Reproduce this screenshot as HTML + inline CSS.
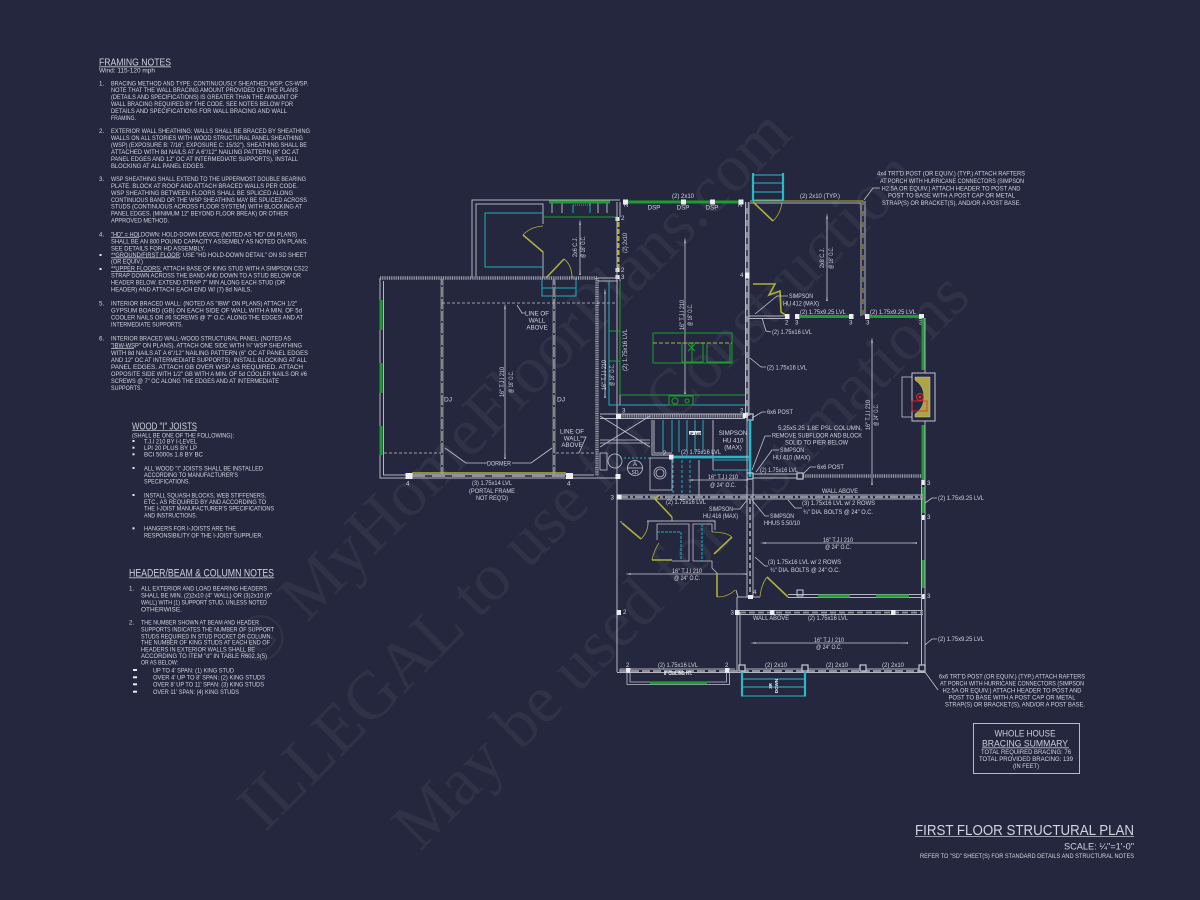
<!DOCTYPE html>
<html><head><meta charset="utf-8"><title>First Floor Structural Plan</title>
<style>
html,body{margin:0;padding:0;background:#25273e;width:1200px;height:900px;overflow:hidden}
svg{display:block;filter:blur(.38px)}
text{font-family:"Liberation Sans",sans-serif;fill:#d3d4df;font-size:6.2px}
.wm{font-family:"Liberation Serif",serif;font-size:68px;fill:#ffffff;fill-opacity:.05}
.h{font-size:10px;fill:#cfd0dc}
.p{font-size:6.4px;fill:#e0e1ea}
.w{stroke:#b4b5c3;stroke-width:1;fill:none}
.t{stroke:#c2c3cf;stroke-width:.8;fill:none}
.g{stroke:#1f9c34;fill:none}
.y{stroke:#aeb03c;stroke-width:1.6;fill:none}
.c{stroke:#22aebc;fill:none;stroke-width:1}
.b{fill:#ececf2}
.o{fill:#25273e;stroke:#c9cad5;stroke-width:1.2}
.dd{stroke:#25273e;stroke-width:1.6;fill:none}
.hh{stroke:#9c9dab;stroke-width:3.6;stroke-dasharray:1 .8;fill:none}
.a{stroke:#c8c9d3;stroke-width:.8;fill:none;marker-start:url(#ah);marker-end:url(#ah)}
</style></head><body>
<svg width="1200" height="900" viewBox="0 0 1200 900" xmlns="http://www.w3.org/2000/svg">
<defs><marker id="ah" markerUnits="userSpaceOnUse" markerWidth="6" markerHeight="4" refX="3" refY="2" orient="auto"><path d="M0 2L6 1.2V2.8Z" fill="#c8c9d3"/></marker></defs>
<rect width="1200" height="900" fill="#25273e"/>

<!-- watermark -->
<text class="wm" transform="translate(258,672) rotate(-45)">© MyHomeFloorPlans.com</text>
<text class="wm" transform="translate(265,833) rotate(-45)">ILLEGAL to use for Construction</text>
<text class="wm" transform="translate(420,852) rotate(-45)">May be used for Estimations</text>

<!-- FRAMING NOTES -->
<text class="h" x="99" y="65.5" textLength="72" lengthAdjust="spacingAndGlyphs">FRAMING NOTES</text>
<line class="t" x1="99" y1="66.8" x2="171" y2="66.8"/>
<text x="99" y="72.5" textLength="56" lengthAdjust="spacingAndGlyphs">Wind: 115-120 mph</text>
<g>
<text x="99" y="85.5">1.</text>
<text x="111" y="85.5" textLength="197" lengthAdjust="spacingAndGlyphs">BRACING METHOD AND TYPE: CONTINUOUSLY SHEATHED WSP; CS-WSP.</text>
<text x="111" y="92.2" textLength="187" lengthAdjust="spacingAndGlyphs">NOTE THAT THE WALL BRACING AMOUNT PROVIDED ON THE PLANS</text>
<text x="111" y="99.2" textLength="187" lengthAdjust="spacingAndGlyphs">(DETAILS AND SPECIFICATIONS) IS GREATER THAN THE AMOUNT OF</text>
<text x="111" y="106.2" textLength="182" lengthAdjust="spacingAndGlyphs">WALL BRACING REQUIRED BY THE CODE. SEE NOTES BELOW FOR</text>
<text x="111" y="113.2" textLength="176" lengthAdjust="spacingAndGlyphs">DETAILS AND SPECIFICATIONS FOR WALL BRACING AND WALL</text>
<text x="111" y="120" textLength="25" lengthAdjust="spacingAndGlyphs">FRAMING.</text>

<text x="99" y="133.2">2.</text>
<text x="111" y="133.2" textLength="199" lengthAdjust="spacingAndGlyphs">EXTERIOR WALL SHEATHING: WALLS SHALL BE BRACED BY SHEATHING</text>
<text x="111" y="140" textLength="192" lengthAdjust="spacingAndGlyphs">WALLS ON ALL STORIES WITH WOOD STRUCTURAL PANEL SHEATHING</text>
<text x="111" y="147" textLength="196" lengthAdjust="spacingAndGlyphs">(WSP) (EXPOSURE B: 7/16", EXPOSURE C: 15/32"). SHEATHING SHALL BE</text>
<text x="111" y="154" textLength="188" lengthAdjust="spacingAndGlyphs">ATTACHED WITH 8d NAILS AT A 6"/12" NAILING PATTERN (6" OC AT</text>
<text x="111" y="161" textLength="187" lengthAdjust="spacingAndGlyphs">PANEL EDGES AND 12" OC AT INTERMEDIATE SUPPORTS). INSTALL</text>
<text x="111" y="168" textLength="94" lengthAdjust="spacingAndGlyphs">BLOCKING AT ALL PANEL EDGES.</text>

<text x="99" y="181.2">3.</text>
<text x="111" y="181.2" textLength="195" lengthAdjust="spacingAndGlyphs">WSP SHEATHING SHALL EXTEND TO THE UPPERMOST DOUBLE BEARING</text>
<text x="111" y="188.2" textLength="187" lengthAdjust="spacingAndGlyphs">PLATE. BLOCK AT ROOF AND ATTACH BRACED WALLS PER CODE.</text>
<text x="111" y="195" textLength="182" lengthAdjust="spacingAndGlyphs">WSP SHEATHING BETWEEN FLOORS SHALL BE SPLICED ALONG</text>
<text x="111" y="202" textLength="196" lengthAdjust="spacingAndGlyphs">CONTINUOUS BAND OR THE WSP SHEATHING MAY BE SPLICED ACROSS</text>
<text x="111" y="208.6" textLength="191" lengthAdjust="spacingAndGlyphs">STUDS (CONTINUOUS ACROSS FLOOR SYSTEM) WITH BLOCKING AT</text>
<text x="111" y="215.6" textLength="177" lengthAdjust="spacingAndGlyphs">PANEL EDGES. (MINIMUM 12" BEYOND FLOOR BREAK) OR OTHER</text>
<text x="111" y="222.6" textLength="58" lengthAdjust="spacingAndGlyphs">APPROVED METHOD.</text>

<text x="99" y="236.5">4.</text>
<text x="111" y="236.5" textLength="186" lengthAdjust="spacingAndGlyphs">"HD" = HOLDOWN: HOLD-DOWN DEVICE (NOTED AS "HD" ON PLANS)</text>
<line class="t" x1="111" y1="237.3" x2="139" y2="237.3" stroke-width=".5"/>
<text x="111" y="243.5" textLength="197" lengthAdjust="spacingAndGlyphs">SHALL BE AN 800 POUND CAPACITY ASSEMBLY AS NOTED ON PLANS.</text>
<text x="111" y="250.3" textLength="94" lengthAdjust="spacingAndGlyphs">SEE DETAILS FOR HD ASSEMBLY.</text>
<rect class="b" x="99.5" y="254" width="2" height="2"/>
<text x="111" y="257" textLength="196" lengthAdjust="spacingAndGlyphs">**GROUND/FIRST FLOOR: USE "HD HOLD-DOWN DETAIL" ON SD SHEET</text>
<line class="t" x1="111" y1="257.8" x2="180" y2="257.8" stroke-width=".5"/>
<text x="111" y="263.5" textLength="32" lengthAdjust="spacingAndGlyphs">(OR EQUIV.)</text>
<rect class="b" x="99.5" y="268" width="2" height="2"/>
<text x="111" y="270.6" textLength="197" lengthAdjust="spacingAndGlyphs">**UPPER FLOORS: ATTACH BASE OF KING STUD WITH A SIMPSON CS22</text>
<line class="t" x1="111" y1="271.4" x2="162" y2="271.4" stroke-width=".5"/>
<text x="111" y="277.6" textLength="190" lengthAdjust="spacingAndGlyphs">STRAP DOWN ACROSS THE BAND AND DOWN TO A STUD BELOW OR</text>
<text x="111" y="284.6" textLength="174" lengthAdjust="spacingAndGlyphs">HEADER BELOW. EXTEND STRAP 7" MIN ALONG EACH STUD (OR</text>
<text x="111" y="291.6" textLength="141" lengthAdjust="spacingAndGlyphs">HEADER) AND ATTACH EACH END W/ (7) 8d NAILS.</text>

<text x="99" y="305.5">5.</text>
<text x="111" y="305.5" textLength="186" lengthAdjust="spacingAndGlyphs">INTERIOR BRACED WALL: (NOTED AS "IBW" ON PLANS) ATTACH 1/2"</text>
<text x="111" y="312.5" textLength="191" lengthAdjust="spacingAndGlyphs">GYPSUM BOARD (GB) ON EACH SIDE OF WALL WITH A MIN. OF 5d</text>
<text x="111" y="319.5" textLength="192" lengthAdjust="spacingAndGlyphs">COOLER NAILS OR #6 SCREWS @ 7" O.C. ALONG THE EDGES AND AT</text>
<text x="111" y="326.5" textLength="72" lengthAdjust="spacingAndGlyphs">INTERMEDIATE SUPPORTS.</text>

<text x="99" y="340.5">6.</text>
<text x="111" y="340.5" textLength="180" lengthAdjust="spacingAndGlyphs">INTERIOR BRACED WALL-WOOD STRUCTURAL PANEL: (NOTED AS</text>
<text x="111" y="347.5" textLength="191" lengthAdjust="spacingAndGlyphs">"IBW-WSP" ON PLANS). ATTACH ONE SIDE WITH ¾" WSP SHEATHING</text>
<line class="t" x1="111" y1="348.3" x2="134" y2="348.3" stroke-width=".5"/>
<text x="111" y="355" textLength="197" lengthAdjust="spacingAndGlyphs">WITH 8d NAILS AT A 6"/12" NAILING PATTERN (6" OC AT PANEL EDGES</text>
<text x="111" y="362" textLength="196" lengthAdjust="spacingAndGlyphs">AND 12" OC AT INTERMEDIATE SUPPORTS). INSTALL BLOCKING AT ALL</text>
<text x="111" y="369" textLength="192" lengthAdjust="spacingAndGlyphs">PANEL EDGES. ATTACH GB OVER WSP AS REQUIRED. ATTACH</text>
<text x="111" y="376" textLength="196" lengthAdjust="spacingAndGlyphs">OPPOSITE SIDE WITH 1/2" GB WITH A MIN. OF 5d COOLER NAILS OR #6</text>
<text x="111" y="383" textLength="168" lengthAdjust="spacingAndGlyphs">SCREWS @ 7" OC ALONG THE EDGES AND AT INTERMEDIATE</text>
<text x="111" y="390" textLength="31" lengthAdjust="spacingAndGlyphs">SUPPORTS.</text>
</g>

<!-- WOOD I JOISTS -->
<text class="h" x="132" y="429.5" textLength="65" lengthAdjust="spacingAndGlyphs">WOOD "I" JOISTS</text>
<line class="t" x1="132" y1="430.5" x2="197" y2="430.5"/>
<text x="132" y="437.3" textLength="102" lengthAdjust="spacingAndGlyphs">(SHALL BE ONE OF THE FOLLOWING):</text>
<g class="b"><rect x="132.5" y="440" width="2" height="2"/><rect x="132.5" y="446.7" width="2" height="2"/><rect x="132.5" y="453.3" width="2" height="2"/><rect x="132.5" y="467" width="2" height="2"/><rect x="132.5" y="494" width="2" height="2"/><rect x="132.5" y="527.3" width="2" height="2"/></g>
<text x="144" y="443.3" textLength="53" lengthAdjust="spacingAndGlyphs">T.J.I 210 BY I-LEVEL</text>
<text x="144" y="450" textLength="53" lengthAdjust="spacingAndGlyphs">LPI 20 PLUS BY LP</text>
<text x="144" y="456.6" textLength="59" lengthAdjust="spacingAndGlyphs">BCI 5000s 1.8 BY BC</text>
<text x="144" y="470.3" textLength="119" lengthAdjust="spacingAndGlyphs">ALL WOOD "I" JOISTS SHALL BE INSTALLED</text>
<text x="144" y="477" textLength="94" lengthAdjust="spacingAndGlyphs">ACCORDING TO MANUFACTURER'S</text>
<text x="144" y="483.6" textLength="46" lengthAdjust="spacingAndGlyphs">SPECIFICATIONS.</text>
<text x="144" y="497.3" textLength="122" lengthAdjust="spacingAndGlyphs">INSTALL SQUASH BLOCKS, WEB STIFFENERS,</text>
<text x="144" y="504" textLength="122" lengthAdjust="spacingAndGlyphs">ETC., AS REQUIRED BY AND ACCORDING TO</text>
<text x="144" y="510.6" textLength="130" lengthAdjust="spacingAndGlyphs">THE I-JOIST MANUFACTURER'S SPECIFICATIONS</text>
<text x="144" y="517.3" textLength="53" lengthAdjust="spacingAndGlyphs">AND INSTRUCTIONS.</text>
<text x="144" y="530.6" textLength="92" lengthAdjust="spacingAndGlyphs">HANGERS FOR I-JOISTS ARE THE</text>
<text x="144" y="537.3" textLength="119" lengthAdjust="spacingAndGlyphs">RESPONSIBILITY OF THE I-JOIST SUPPLIER.</text>

<!-- HEADER/BEAM -->
<text class="h" x="129" y="576.5" style="font-size:11px" textLength="145" lengthAdjust="spacingAndGlyphs">HEADER/BEAM &amp; COLUMN NOTES</text>
<line class="t" x1="129" y1="577.8" x2="274" y2="577.8"/>
<text x="129" y="590.6">1.</text>
<text x="141" y="590.6" textLength="126" lengthAdjust="spacingAndGlyphs">ALL EXTERIOR AND LOAD BEARING HEADERS</text>
<text x="141" y="597.6" textLength="131" lengthAdjust="spacingAndGlyphs">SHALL BE MIN. (2)2x10 (4" WALL) OR (3)2x10 (6"</text>
<text x="141" y="604.6" textLength="126" lengthAdjust="spacingAndGlyphs">WALL) WITH (1) SUPPORT STUD, UNLESS NOTED</text>
<text x="141" y="611.3" textLength="41" lengthAdjust="spacingAndGlyphs">OTHERWISE.</text>
<text x="129" y="624.6">2.</text>
<text x="141" y="624.6" textLength="118" lengthAdjust="spacingAndGlyphs">THE NUMBER SHOWN AT BEAM AND HEADER</text>
<text x="141" y="631.3" textLength="133" lengthAdjust="spacingAndGlyphs">SUPPORTS INDICATES THE NUMBER OF SUPPORT</text>
<text x="141" y="638.3" textLength="131" lengthAdjust="spacingAndGlyphs">STUDS REQUIRED IN STUD POCKET OR COLUMN.</text>
<text x="141" y="644.6" textLength="129" lengthAdjust="spacingAndGlyphs">THE NUMBER OF KING STUDS AT EACH END OF</text>
<text x="141" y="651.3" textLength="114" lengthAdjust="spacingAndGlyphs">HEADERS IN EXTERIOR WALLS SHALL BE</text>
<text x="141" y="658" textLength="126" lengthAdjust="spacingAndGlyphs">ACCORDING TO ITEM "d" IN TABLE R602.3(5)</text>
<text x="141" y="664.6" textLength="37" lengthAdjust="spacingAndGlyphs">OR AS BELOW:</text>
<g class="b"><rect x="133" y="669" width="4" height="2"/><rect x="133" y="676.3" width="4" height="2"/><rect x="133" y="683.3" width="4" height="2"/><rect x="133" y="690.7" width="4" height="2"/></g>
<text x="153" y="672.3" textLength="81" lengthAdjust="spacingAndGlyphs">UP TO 4' SPAN: (1) KING STUD</text>
<text x="153" y="679.6" textLength="112" lengthAdjust="spacingAndGlyphs">OVER 4' UP TO 8' SPAN: (2) KING STUDS</text>
<text x="153" y="686.6" textLength="111" lengthAdjust="spacingAndGlyphs">OVER 8' UP TO 11' SPAN: (3) KING STUDS</text>
<text x="153" y="694" textLength="86" lengthAdjust="spacingAndGlyphs">OVER 11' SPAN: (4) KING STUDS</text>

<!-- ===== PLAN ===== -->
<!-- rear left room -->
<path class="w" d="M472 278V200H620M476 278V204H543V224M543 251V278"/>
<path class="c" d="M543 213H485V267H543"/>
<path class="y" d="M543 252L523 235"/><path class="t" style="stroke:#aeb03c" d="M523 235Q530 227 543 226"/>
<path class="y" d="M546 278L564 259"/><path class="t" style="stroke:#aeb03c" d="M564 259Q572 265 572 278"/>
<path class="g" stroke-width="1" d="M543 217H618"/>
<path class="w" d="M552 203V213M562 203V213M590 203V213M598 203V213M607 203V213"/>
<path class="c" stroke-dasharray="1 1" stroke-width="2" d="M573 205H590"/><path class="c" d="M573 205V213M590 205V213"/>
<path class="c" d="M542 278V296H576V278M542 288H576"/>

<!-- great room -->
<path class="hh" d="M380 278H598"/>
<path class="hh" d="M597 278V476"/>
<path class="w" d="M380 278V478H620M383.5 281V475H412M566 475H594"/>
<path class="w" d="M598 278H620M598 281H618"/>
<g class="g" stroke-width="3"><path d="M381 300V330M381 363V393M381 426V455"/></g>
<g stroke="#83848f" stroke-width="3" fill="none"><path d="M442 279V474M554 279V474"/></g>
<path class="dd" d="M442 285V474M554 285V474" stroke-dasharray="2 10"/>
<path class="t" stroke-dasharray="3 2" d="M442 303H617M384 453H441M556 453H597"/>
<rect x="412" y="474" width="154" height="3" fill="#8f90a0"/>
<path class="y" d="M412 473H566" stroke-width="1.4"/>
<path class="dd" stroke-width="2.4" stroke-dasharray="7 13" d="M425 476H566"/>
<rect class="b" x="405.5" y="473" width="7" height="6"/><rect class="b" x="566" y="473" width="7" height="6"/>
<text x="406" y="485.5">4</text><text x="567" y="485.5">4</text>
<text x="492" y="485" text-anchor="middle" textLength="40" lengthAdjust="spacingAndGlyphs">(3) 1.75x14 LVL</text>
<text x="492" y="493" text-anchor="middle" textLength="46" lengthAdjust="spacingAndGlyphs">(PORTAL FRAME</text>
<text x="492" y="500" text-anchor="middle" textLength="32" lengthAdjust="spacingAndGlyphs">NOT REQ'D)</text>
<text x="448" y="401.5" text-anchor="middle" style="font-size:6.6px">DJ</text>
<text x="561" y="401.5" text-anchor="middle" style="font-size:6.6px">DJ</text>
<text x="499" y="465.5" text-anchor="middle" textLength="24" lengthAdjust="spacingAndGlyphs">DORMER</text>
<path class="t" d="M445 448L466 463H487M552 448L531 463H512"/>
<text x="537" y="315.5" text-anchor="middle">LINE OF</text><text x="537" y="322.5" text-anchor="middle">WALL</text><text x="537" y="329.5" text-anchor="middle">ABOVE</text>
<path class="t" d="M517 305L522 313H525"/>
<text x="572" y="433.5" text-anchor="middle">LINE OF</text><text x="572" y="440.5" text-anchor="middle">WALL</text><text x="572" y="447" text-anchor="middle">ABOVE</text>
<path class="t" d="M580 437H586L579 453"/>

<!-- joist arrows -->
<line class="a" x1="505" y1="306" x2="505" y2="456"/>
<line class="a" x1="580" y1="222" x2="580" y2="272"/>
<line class="a" x1="605" y1="291" x2="605" y2="395"/>
<line class="a" x1="685" y1="240" x2="685" y2="391"/>
<line class="a" x1="827" y1="216" x2="827" y2="298"/>
<line class="a" x1="872" y1="340" x2="872" y2="482"/>
<line class="a" x1="763" y1="543" x2="914" y2="543"/>
<line class="a" x1="628" y1="574" x2="744" y2="574"/>
<line class="a" x1="753" y1="643" x2="905" y2="643"/>
<line class="a" x1="690" y1="480" x2="745" y2="480"/>
<g>
<text transform="translate(504,382) rotate(-90)" text-anchor="middle" textLength="30" lengthAdjust="spacingAndGlyphs">16" T.J.I 210</text>
<text transform="translate(513,382) rotate(-90)" text-anchor="middle" textLength="22" lengthAdjust="spacingAndGlyphs">@ 16" O.C.</text>
<text transform="translate(577,247) rotate(-90)" text-anchor="middle" textLength="20" lengthAdjust="spacingAndGlyphs">2x6 C.J.</text>
<text transform="translate(585,247) rotate(-90)" text-anchor="middle" textLength="22" lengthAdjust="spacingAndGlyphs">@ 16" O.C.</text>
<text transform="translate(606,375) rotate(-90)" text-anchor="middle" textLength="30" lengthAdjust="spacingAndGlyphs">16" T.J.I 210</text>
<text transform="translate(614,375) rotate(-90)" text-anchor="middle" textLength="22" lengthAdjust="spacingAndGlyphs">@ 16" O.C.</text>
<text transform="translate(684,315) rotate(-90)" text-anchor="middle" textLength="30" lengthAdjust="spacingAndGlyphs">16" T.J.I 210</text>
<text transform="translate(692,315) rotate(-90)" text-anchor="middle" textLength="22" lengthAdjust="spacingAndGlyphs">@ 16" O.C.</text>
<text transform="translate(824,258) rotate(-90)" text-anchor="middle" textLength="20" lengthAdjust="spacingAndGlyphs">2x8 C.J.</text>
<text transform="translate(833,258) rotate(-90)" text-anchor="middle" textLength="22" lengthAdjust="spacingAndGlyphs">@ 16" O.C.</text>
<text transform="translate(870,415) rotate(-90)" text-anchor="middle" textLength="30" lengthAdjust="spacingAndGlyphs">16" T.J.I 210</text>
<text transform="translate(878,415) rotate(-90)" text-anchor="middle" textLength="22" lengthAdjust="spacingAndGlyphs">@ 24" O.C.</text>
<text transform="translate(627,350) rotate(-90)" text-anchor="middle" textLength="42" lengthAdjust="spacingAndGlyphs">(2) 1.75x16 LVL</text>
<text transform="translate(627,243) rotate(-90)" text-anchor="middle" textLength="20" lengthAdjust="spacingAndGlyphs">(2) 2x10</text>
</g>

<!-- top wall -->
<path class="g" stroke-width="3" d="M549 202H610M625 202H740"/>
<g class="b"><rect x="623" y="199.5" width="5" height="5"/><rect x="681" y="199.5" width="5" height="5"/><rect x="710" y="199.5" width="5" height="5"/><rect x="738.5" y="199.5" width="5" height="5"/><rect x="615.5" y="217" width="4" height="4"/><rect x="615.5" y="268" width="4" height="4"/><rect x="615.5" y="275" width="4" height="4"/></g>
<text x="683" y="198" text-anchor="middle" textLength="22" lengthAdjust="spacingAndGlyphs">(2) 2x10</text>
<text x="654" y="209.5" text-anchor="middle">DSP</text><text x="683" y="209.5" text-anchor="middle">DSP</text><text x="712" y="209.5" text-anchor="middle">DSP</text>
<text transform="translate(628,207) rotate(-90)" style="font-size:5.5px">2</text><text transform="translate(742,207) rotate(-90)" style="font-size:5.5px">2</text>
<text x="621" y="220">2</text><text x="621" y="272">2</text><text x="621" y="279">3</text>

<!-- wall x618 -->
<path class="w" d="M617 202V672M620 202V217M620 279V405"/>
<path stroke="#aeb03c" stroke-width="2" stroke-dasharray="5 2" d="M618.5 222V268" fill="none"/>
<path class="g" stroke-width="1" d="M620 281V395M609 331H620M609 361H620M620 395H747"/>
<path class="c" d="M609 281V405H747"/>

<!-- kitchen -->
<g class="g" stroke-width="1"><rect x="653" y="333" width="79" height="30"/><rect x="682" y="343" width="21" height="19"/><path d="M692 343V362M707 343V362H730V343"/><rect x="669" y="396" width="24" height="9"/><circle cx="675" cy="401" r="3"/><circle cx="687" cy="401" r="2"/><path d="M688 344L695 351M695 344L688 351"/></g>
<path stroke="#aeb03c" stroke-width=".9" stroke-dasharray="4 2" d="M653 343H732" fill="none"/>

<!-- x747 wall -->
<path stroke="#8d8e9c" stroke-width="3.2" fill="none" d="M747 202V416"/>
<path stroke="#25273e" stroke-width="1.4" fill="none" d="M747 202V416" stroke-dasharray="6 6"/>
<path stroke="#c8c9d3" stroke-width=".8" fill="none" d="M745.5 202V416M749 202V416"/>

<!-- rear porch -->
<path stroke="#aeb03c" stroke-width="1" d="M750 201H863V316" fill="none"/>
<path class="w" d="M750 203H861V316M865 201V316"/>
<path stroke="#25273e" stroke-width=".9" stroke-dasharray="6 5" fill="none" d="M863 205V316"/>
<path stroke="#2ab9c6" stroke-width="2.2" fill="none" d="M753 173V201M783 173V201"/>
<path stroke="#2ab9c6" stroke-width="1" fill="none" d="M753 175H783M753 183H783M753 192H783M753 200H783"/>
<path class="y" d="M753 202L773 221"/><path class="t" style="stroke:#aeb03c" d="M773 221Q781 213 782 202"/>
<text x="800" y="198" textLength="40" lengthAdjust="spacingAndGlyphs">(2) 2x10 (TYP.)</text>
<path class="t" d="M864 200L873 188H880"/>

<!-- post & jog -->
<rect class="b" x="745" y="272.5" width="4.5" height="6"/><text x="740" y="277">4</text>
<path class="y" d="M753 284H775L769 295L780 291L781 312L787 316"/>
<path class="w" d="M749 316H785M749 318.5H785"/>
<path class="g" stroke-width="3" d="M800 316.5H850M870 316.5H922"/>
<g class="b"><rect x="785" y="314" width="4.5" height="5"/><rect x="795" y="314" width="4.5" height="5"/><rect x="849" y="314" width="4.5" height="5"/><rect x="865" y="314" width="4.5" height="5"/><rect x="919" y="314" width="5" height="5"/><rect x="921" y="480" width="4.5" height="5"/><rect x="921" y="515" width="4.5" height="5"/><rect x="921" y="594" width="4.5" height="5"/></g>
<text x="823" y="314" text-anchor="middle" textLength="46" lengthAdjust="spacingAndGlyphs">(2) 1.75x9.25 LVL</text>
<text x="893" y="314" text-anchor="middle" textLength="46" lengthAdjust="spacingAndGlyphs">(2) 1.75x9.25 LVL</text>
<text x="785" y="324.5">2</text><text x="795" y="324.5">3</text><text x="849" y="324.5">3</text><text x="866" y="324.5">3</text><text x="919" y="324.5">3</text>
<text x="789" y="298" textLength="24" lengthAdjust="spacingAndGlyphs">SIMPSON</text>
<text x="783" y="305.5" textLength="36" lengthAdjust="spacingAndGlyphs">HU 412 (MAX)</text>
<path class="t" d="M755 314L777 296H788"/>
<text x="772" y="334" textLength="40" lengthAdjust="spacingAndGlyphs">(2) 1.75x16 LVL</text>
<path class="t" d="M762 318L766 331L771 332"/>
<text x="767" y="369.5" textLength="40" lengthAdjust="spacingAndGlyphs">(2) 1.75x16 LVL</text>
<path class="t" d="M750 358L761 367H766"/>

<!-- right wall -->
<path class="g" stroke-width="3" d="M923 318V370M923 425V480M923 487V513M923 560V588"/>
<path class="w" d="M925 318V672M921.5 480V672"/>
<!-- fireplace -->
<rect x="912" y="373" width="23" height="48" fill="#25273e" stroke="#c2c3cf"/>
<rect x="902" y="377" width="10" height="40" fill="none" stroke="#c2c3cf" stroke-width=".8"/>
<path d="M915 377H930V417H915V414Q924 408 924 397Q924 386 915 380Z" fill="#aca544" stroke="#c2c3cf" stroke-width=".5"/>
<circle cx="920" cy="397" r="3.5" fill="none" stroke="#e02a2a"/>
<circle cx="920" cy="397" r="1.5" fill="#e02a2a"/>
<rect x="912" y="401" width="15" height="10" fill="none" stroke="#e02a2a" stroke-width=".8"/>

<!-- hatched y416 + stair zone -->
<path class="hh" d="M618 416H745"/>
<path class="w" d="M600 414H745M600 418.5H745"/>
<rect class="b" x="616" y="414" width="5" height="5"/><rect class="b" x="743" y="413" width="5" height="5"/>
<text x="622" y="412.5">3</text><text x="740" y="412.5">2</text>
<rect x="747" y="414" width="6" height="6" fill="none" stroke="#c9cad5" stroke-width="1.2"/>
<text x="767" y="414" textLength="26" lengthAdjust="spacingAndGlyphs">6x6 POST</text>
<path class="t" d="M752 418L762 412H766"/>

<!-- washroom left -->
<path class="t" stroke-width=".7" d="M600 416L650 447M650 416L600 447M600 440H650M600 443H650"/>
<circle class="t" cx="615" cy="461" r="7"/><rect class="t" x="600" y="453" width="7" height="17"/>
<circle class="t" cx="635" cy="468" r="7.5"/><path class="t" d="M627.5 468H642.5"/>
<text x="635" y="466" text-anchor="middle" style="font-size:6px">A</text><text x="635" y="474" text-anchor="middle" style="font-size:5px">SD</text>
<path class="c" stroke-width=".7" stroke-dasharray="2 2" d="M620 458H650"/>
<rect class="t" x="650" y="458" width="22" height="32"/><circle class="t" cx="660" cy="473" r="6"/><circle class="t" cx="660" cy="473" r="4"/>
<rect class="b" x="615.5" y="474" width="5" height="5"/>

<!-- stairs -->
<path class="w" d="M652 420V455H672M654 420V453H672"/>
<path class="c" stroke-width=".8" d="M663 420V452M672 420V452M679 420V452M687 420V452M695 420V452M703 420V452"/>
<path class="w" d="M713 420V470"/>
<path stroke="#8f90a0" stroke-width="2.6" d="M672 457H713" fill="none"/>
<path stroke="#27b7c6" stroke-width="2.6" d="M673 457H749" fill="none"/>
<rect class="b" x="669" y="454.5" width="4.5" height="5"/>
<text x="663" y="455" style="font-size:6px">2</text>
<path stroke="#27b7c6" stroke-width="2.6" d="M750 420V477" fill="none"/>
<path class="c" d="M713 460H749M713 470H749"/>
<path class="c" stroke-dasharray="3 2" d="M673 460V497M682 460V497M690 460V497"/>
<path class="w" d="M699 460V497"/>
<rect class="b" x="689" y="431" width="12" height="4"/><text x="695" y="434.8" text-anchor="middle" style="font-size:4px;fill:#25273e;font-weight:bold">UP 16R</text>
<text x="701" y="454" text-anchor="middle" textLength="40" lengthAdjust="spacingAndGlyphs">(2) 1.75x16 LVL</text>
<text x="733" y="435" text-anchor="middle">SIMPSON</text><text x="733" y="442.5" text-anchor="middle">HU 410</text><text x="733" y="449.5" text-anchor="middle">(MAX)</text>
<text x="723" y="479" text-anchor="middle" textLength="30" lengthAdjust="spacingAndGlyphs">16" T.J.I 210</text>
<text x="723" y="487" text-anchor="middle" textLength="26" lengthAdjust="spacingAndGlyphs">@ 24" O.C.</text>

<!-- y476 beam -->
<rect x="747" y="473" width="6" height="6" fill="none" stroke="#c9cad5" stroke-width="1.2"/>
<path class="w" d="M753 474H797M753 478H797"/>
<path class="hh" d="M803 476H922"/>
<rect x="797" y="473" width="6" height="6" fill="#25273e" stroke="#c9cad5" stroke-width="1.2"/>
<text x="817" y="469" textLength="27" lengthAdjust="spacingAndGlyphs">6x6 POST</text>
<path class="t" d="M803 474L810 467H816"/>
<text x="778" y="430" textLength="84" lengthAdjust="spacingAndGlyphs">5.25x5.25 1.8E PSL COLUMN,</text>
<text x="772" y="437.3" textLength="90" lengthAdjust="spacingAndGlyphs">REMOVE SUBFLOOR AND BLOCK</text>
<text x="785" y="444.3" textLength="63" lengthAdjust="spacingAndGlyphs">SOLID TO PIER BELOW</text>
<text x="780" y="452" textLength="24" lengthAdjust="spacingAndGlyphs">SIMPSON</text>
<text x="773" y="459.3" textLength="37" lengthAdjust="spacingAndGlyphs">HU 410 (MAX)</text>
<text x="760" y="472" textLength="38" lengthAdjust="spacingAndGlyphs">(2) 1.75x16 LVL</text>
<path class="t" d="M752 470L765 436H771M756 472L772 450H779"/>

<!-- y497 beam -->
<path class="w" d="M620 495H923M620 499H923"/>
<path stroke="#8d8e9c" stroke-width="2.2" fill="none" d="M620 497H923" stroke-dasharray="8 2 3 2"/>
<rect class="b" x="616.5" y="494.5" width="5" height="5"/><text x="610.5" y="499.5">3</text>
<text x="840" y="493" text-anchor="middle" textLength="36" lengthAdjust="spacingAndGlyphs">WALL ABOVE</text>
<text x="686" y="504" text-anchor="middle" textLength="40" lengthAdjust="spacingAndGlyphs">(2) 1.75x16 LVL</text>
<text x="709" y="511" textLength="24" lengthAdjust="spacingAndGlyphs">SIMPSON</text>
<path class="t" d="M733 509H740L747 500M752 500L765 516H769M788 500L795 508H802"/>
<text x="703" y="518" textLength="35" lengthAdjust="spacingAndGlyphs">HU 416 (MAX)</text>
<text x="770" y="518" textLength="24" lengthAdjust="spacingAndGlyphs">SIMPSON</text>
<text x="764" y="525" textLength="36" lengthAdjust="spacingAndGlyphs">HHUS 5.50/10</text>
<text x="802" y="505" textLength="73" lengthAdjust="spacingAndGlyphs">(3) 1.75x16 LVL w/ 2 ROWS</text>
<text x="803" y="514" textLength="70" lengthAdjust="spacingAndGlyphs">¾" DIA. BOLTS @ 24" O.C.</text>
<text x="838" y="542" text-anchor="middle" textLength="30" lengthAdjust="spacingAndGlyphs">16" T.J.I 210</text>
<text x="838" y="549" text-anchor="middle" textLength="26" lengthAdjust="spacingAndGlyphs">@ 24" O.C.</text>

<!-- vertical beam x750 -->
<path class="w" d="M747 416V597M753 480V597"/>
<path stroke="#8d8e9c" stroke-width="2" fill="none" stroke-dasharray="5 3" d="M750 499V597"/>
<path class="t" d="M755 557L765 566H768"/>
<text x="768" y="564" textLength="73" lengthAdjust="spacingAndGlyphs">(3) 1.75x16 LVL w/ 2 ROWS</text>
<text x="770" y="572" textLength="70" lengthAdjust="spacingAndGlyphs">¾" DIA. BOLTS @ 24" O.C.</text>

<!-- lower left rooms -->
<path class="y" d="M654 498L672 517"/><path class="y" stroke-width="1" d="M654 499L660 495"/>
<path class="w" d="M672 517V521H648M648 521V524M647 521H715V530M620 522H622"/>
<path class="y" d="M622 523L641 539"/><path class="t" style="stroke:#aeb03c" d="M641 539Q648 532 648 523"/>
<path class="t" d="M657 524H689V561H672M693 561V524H712V532M657 524V540M693 561H712V568L717 573"/>
<path class="c" stroke-width="2" stroke-dasharray="3 1" d="M657 532H681V560M702 524V561"/>
<path class="y" d="M652 560H672"/><path class="t" style="stroke:#aeb03c" d="M652 560Q654 550 659 543"/>
<path class="t" style="stroke:#aeb03c" d="M712 532Q726 532 732 537"/><path class="y" d="M732 537L714 554"/>
<path class="y" d="M717 573V597"/><path class="t" style="stroke:#aeb03c" d="M717 597Q728 597 735 590"/>
<path class="w" d="M736 590L738 597H748"/>
<text x="687" y="573" text-anchor="middle" textLength="30" lengthAdjust="spacingAndGlyphs">16" T.J.I 210</text>
<text x="687" y="580" text-anchor="middle" textLength="26" lengthAdjust="spacingAndGlyphs">@ 24" O.C.</text>

<!-- front door / y597 -->
<path class="y" d="M767 577L788 597"/><path class="t" style="stroke:#aeb03c" d="M767 577Q761 585 760 597"/>
<path class="w" d="M750 597H760M788 597.5H923M788 594.5H923"/>
<path class="g" stroke-width="3" d="M818 596H850M876 596H909"/>
<rect x="797" y="590" width="6" height="6" fill="none" stroke="#c9cad5"/>
<text x="753" y="594">4</text><rect class="b" x="748" y="595" width="5" height="4"/>
<text x="927" y="485">3</text><text x="927" y="519">3</text><text x="927" y="598">3</text>
<text x="623" y="614">2</text><rect class="b" x="616.5" y="610" width="4.5" height="5"/>

<!-- y612 beam -->
<path class="w" d="M737 597V672M740 612V668M737 610.5H923M737 614.5H923"/>
<path stroke="#8d8e9c" stroke-width="1.8" fill="none" stroke-dasharray="6 3" d="M740 612.5H923"/>
<rect class="b" x="735" y="610" width="4.5" height="5"/><rect class="b" x="770" y="610" width="4.5" height="5"/><rect class="b" x="891" y="610" width="4.5" height="5"/>
<text x="730.5" y="614.5">3</text>
<text x="771" y="620" text-anchor="middle" textLength="36" lengthAdjust="spacingAndGlyphs">WALL ABOVE</text>
<text x="828" y="620" text-anchor="middle" textLength="40" lengthAdjust="spacingAndGlyphs">(2) 1.75x16 LVL</text>
<text x="829" y="642" text-anchor="middle" textLength="30" lengthAdjust="spacingAndGlyphs">16" T.J.I 210</text>
<text x="829" y="649" text-anchor="middle" textLength="26" lengthAdjust="spacingAndGlyphs">@ 24" O.C.</text>

<!-- bottom wall -->
<path class="w" d="M617 672.5H925M620 669H735M740 669H923M620 672V669"/>
<path stroke="#8d8e9c" stroke-width="2" stroke-dasharray="8 3" fill="none" d="M620 671H925"/>
<g fill="#25273e" stroke="#c9cad5" stroke-width="1.2"><rect x="739" y="665" width="6" height="6"/><rect x="802" y="665" width="6" height="6"/><rect x="860" y="665" width="6" height="6"/><rect x="919" y="665" width="6" height="6"/></g>
<rect class="b" x="626" y="668" width="4.5" height="5"/><rect class="b" x="725" y="668" width="4.5" height="5"/>
<text x="626" y="667">2</text><text x="725" y="667">2</text>
<text x="776" y="667" text-anchor="middle" textLength="22" lengthAdjust="spacingAndGlyphs">(2) 2x10</text>
<text x="837" y="667" text-anchor="middle" textLength="22" lengthAdjust="spacingAndGlyphs">(2) 2x10</text>
<text x="893" y="667" text-anchor="middle" textLength="22" lengthAdjust="spacingAndGlyphs">(2) 2x10</text>
<text x="678" y="667" text-anchor="middle" textLength="40" lengthAdjust="spacingAndGlyphs">(2) 1.75x16 LVL</text>
<path class="t" d="M627 672V684.5H729.5V672M630 672V682H726.5V672"/>
<path class="g" stroke-width="2.4" d="M650 683H707"/>
<text x="678" y="675" text-anchor="middle" style="font-size:5px;font-weight:bold;fill:#f0f0f5" textLength="28" lengthAdjust="spacingAndGlyphs">8' CEILING HT.</text>
<path stroke="#2ab9c6" stroke-width="2.2" fill="none" d="M742 672V696M805 672V696"/>
<path stroke="#2ab9c6" stroke-width="1" fill="none" d="M742 679H805M742 687H805M741 696H806"/>
<text transform="translate(772,686) rotate(-90)" text-anchor="middle" style="font-size:4.5px;font-weight:bold;fill:#f0f0f5">3R</text>
<text transform="translate(778,686) rotate(-90)" text-anchor="middle" style="font-size:4.5px;font-weight:bold;fill:#f0f0f5">DOWN</text>

<!-- right leaders + labels -->
<path class="t" d="M925 503L932 498H937M925 645L932 639H937M925 672L938 690"/>
<text x="938" y="500" textLength="46" lengthAdjust="spacingAndGlyphs">(2) 1.75x9.25 LVL</text>
<text x="938" y="641" textLength="46" lengthAdjust="spacingAndGlyphs">(2) 1.75x9.25 LVL</text>

<!-- callouts -->
<g class="p">
<text x="951" y="175.5" text-anchor="middle" textLength="148" lengthAdjust="spacingAndGlyphs">4x4 TRT'D POST (OR EQUIV.) (TYP.) ATTACH RAFTERS</text>
<text x="952" y="183" text-anchor="middle" textLength="144" lengthAdjust="spacingAndGlyphs">AT PORCH WITH HURRICANE CONNECTORS (SIMPSON</text>
<text x="951" y="190.3" text-anchor="middle" textLength="139" lengthAdjust="spacingAndGlyphs">H2.5A OR EQUIV.) ATTACH HEADER TO POST AND</text>
<text x="951.5" y="197.6" text-anchor="middle" textLength="127" lengthAdjust="spacingAndGlyphs">POST TO BASE WITH A POST CAP OR METAL</text>
<text x="951.5" y="205" text-anchor="middle" textLength="139" lengthAdjust="spacingAndGlyphs">STRAP(S) OR BRACKET(S), AND/OR A POST BASE.</text>
<text x="1012" y="678.3" text-anchor="middle" textLength="146" lengthAdjust="spacingAndGlyphs">6x6 TRT'D POST (OR EQUIV.) (TYP.) ATTACH RAFTERS</text>
<text x="1012" y="685.3" text-anchor="middle" textLength="144" lengthAdjust="spacingAndGlyphs">AT PORCH WITH HURRICANE CONNECTORS (SIMPSON</text>
<text x="1012" y="692.5" text-anchor="middle" textLength="139" lengthAdjust="spacingAndGlyphs">H2.5A OR EQUIV.) ATTACH HEADER TO POST AND</text>
<text x="1012" y="699.5" text-anchor="middle" textLength="127" lengthAdjust="spacingAndGlyphs">POST TO BASE WITH A POST CAP OR METAL</text>
<text x="1015" y="706.5" text-anchor="middle" textLength="140" lengthAdjust="spacingAndGlyphs">STRAP(S) OR BRACKET(S), AND/OR A POST BASE.</text>
</g>

<!-- bracing box -->
<rect x="973.5" y="723.5" width="106" height="50" fill="none" stroke="#b9bac8" stroke-width="1"/>
<text class="h" style="font-size:9px" x="1025" y="736.5" text-anchor="middle" textLength="61" lengthAdjust="spacingAndGlyphs">WHOLE HOUSE</text>
<text class="h" style="font-size:9px" x="1025" y="746.5" text-anchor="middle" textLength="86" lengthAdjust="spacingAndGlyphs">BRACING SUMMARY</text>
<line class="t" x1="982" y1="747.8" x2="1069" y2="747.8"/>
<text x="1026" y="754" text-anchor="middle" textLength="90" lengthAdjust="spacingAndGlyphs">TOTAL REQUIRED BRACING: 76</text>
<text x="1026" y="761" text-anchor="middle" textLength="94" lengthAdjust="spacingAndGlyphs">TOTAL PROVIDED BRACING: 139</text>
<text x="1026" y="768" text-anchor="middle" textLength="26" lengthAdjust="spacingAndGlyphs">(IN FEET)</text>

<!-- title -->
<text x="915" y="835" style="font-size:14.5px" textLength="219" lengthAdjust="spacingAndGlyphs">FIRST FLOOR STRUCTURAL PLAN</text>
<line class="t" x1="915" y1="836.5" x2="1134" y2="836.5"/>
<text x="1064" y="849.5" style="font-size:9.5px" textLength="70" lengthAdjust="spacingAndGlyphs">SCALE: ¼"=1'-0"</text>
<text x="920" y="858" style="font-size:6px" textLength="214" lengthAdjust="spacingAndGlyphs">REFER TO "SD" SHEET(S) FOR STANDARD DETAILS AND STRUCTURAL NOTES</text>
</svg>
</body></html>
